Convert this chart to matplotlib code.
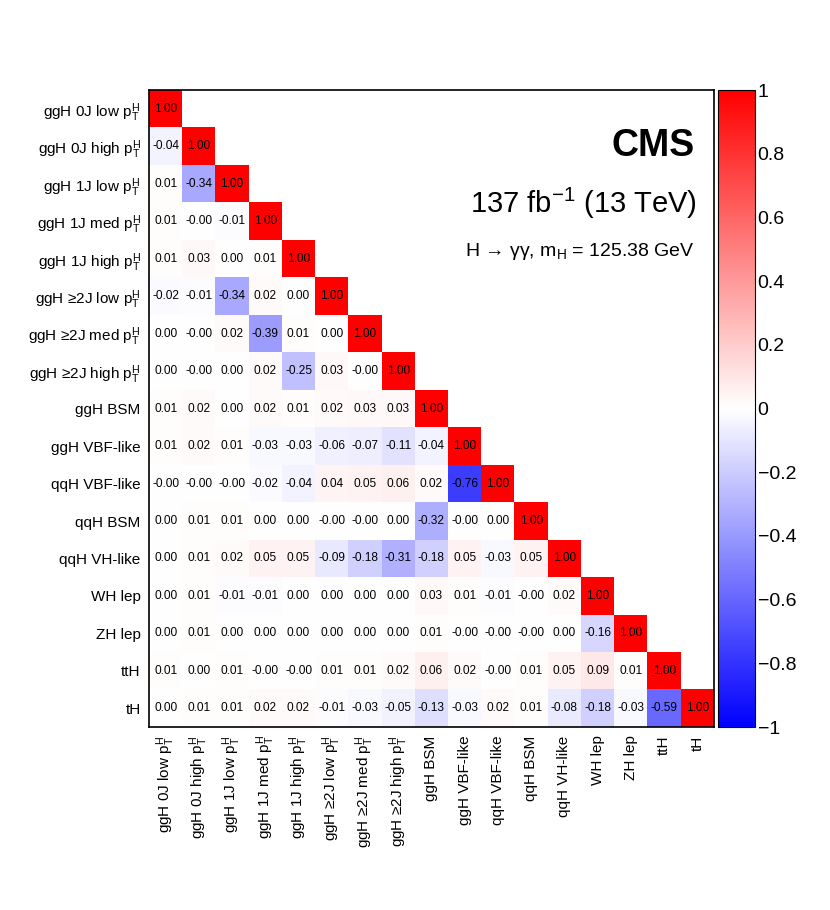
import numpy as np
import matplotlib
matplotlib.use("Agg")
import matplotlib.pyplot as plt
from matplotlib.colors import LinearSegmentedColormap

plt.rcParams['font.family'] = ['Liberation Sans', 'DejaVu Sans']
plt.rcParams['mathtext.fontset'] = 'custom'
plt.rcParams['mathtext.rm'] = 'Liberation Sans'
plt.rcParams['mathtext.it'] = 'Liberation Sans:italic'
plt.rcParams['mathtext.bf'] = 'Liberation Sans:bold'

PT = r'$\mathrm{p}_{\mathrm{T}}^{\mathrm{H}}$'
labels = [
    'ggH 0J low ' + PT, 'ggH 0J high ' + PT, 'ggH 1J low ' + PT,
    'ggH 1J med ' + PT, 'ggH 1J high ' + PT, 'ggH \u22652J low ' + PT,
    'ggH \u22652J med ' + PT, 'ggH \u22652J high ' + PT, 'ggH BSM',
    'ggH VBF-like', 'qqH VBF-like', 'qqH BSM', 'qqH VH-like',
    'WH lep', 'ZH lep', 'ttH', 'tH',
]

# lower triangle, row by row (-0.0 keeps the "-0.00" printed in the original)
rows = [
    [1.00],
    [-0.04, 1.00],
    [0.01, -0.34, 1.00],
    [0.01, -0.0, -0.01, 1.00],
    [0.01, 0.03, 0.00, 0.01, 1.00],
    [-0.02, -0.01, -0.34, 0.02, 0.00, 1.00],
    [0.00, -0.0, 0.02, -0.39, 0.01, 0.00, 1.00],
    [0.00, -0.0, 0.00, 0.02, -0.25, 0.03, -0.0, 1.00],
    [0.01, 0.02, 0.00, 0.02, 0.01, 0.02, 0.03, 0.03, 1.00],
    [0.01, 0.02, 0.01, -0.03, -0.03, -0.06, -0.07, -0.11, -0.04, 1.00],
    [-0.0, -0.0, -0.0, -0.02, -0.04, 0.04, 0.05, 0.06, 0.02, -0.76, 1.00],
    [0.00, 0.01, 0.01, 0.00, 0.00, -0.0, -0.0, 0.00, -0.32, -0.0, 0.00, 1.00],
    [0.00, 0.01, 0.02, 0.05, 0.05, -0.09, -0.18, -0.31, -0.18, 0.05, -0.03, 0.05, 1.00],
    [0.00, 0.01, -0.01, -0.01, 0.00, 0.00, 0.00, 0.00, 0.03, 0.01, -0.01, -0.0, 0.02, 1.00],
    [0.00, 0.01, 0.00, 0.00, 0.00, 0.00, 0.00, 0.00, 0.01, -0.0, -0.0, -0.0, 0.00, -0.16, 1.00],
    [0.01, 0.00, 0.01, -0.0, -0.0, 0.01, 0.01, 0.02, 0.06, 0.02, -0.0, 0.01, 0.05, 0.09, 0.01, 1.00],
    [0.00, 0.01, 0.01, 0.02, 0.02, -0.01, -0.03, -0.05, -0.13, -0.03, 0.02, 0.01, -0.08, -0.18, -0.03, -0.59, 1.00],
]

n = len(labels)
mat = np.full((n, n), np.nan)
for i, r in enumerate(rows):
    mat[i, :len(r)] = r

cmap = LinearSegmentedColormap.from_list('bwr_root', [(0, 0, 1), (1, 1, 1), (1, 0, 0)])

fig = plt.figure(figsize=(8.3, 9.1), dpi=100)
ax = fig.add_axes([0.1795, 0.201, 0.6807, 0.700])
cax = fig.add_axes([0.865, 0.201, 0.0446, 0.700])

im = ax.imshow(np.ma.masked_invalid(mat), cmap=cmap, vmin=-1, vmax=1,
               aspect='auto', interpolation='nearest',
               extent=(-0.5, n - 0.5, n - 0.5, -0.5))

for i, r in enumerate(rows):
    for j, v in enumerate(r):
        ax.text(j, i, f'{v:.2f}', ha='center', va='center', fontsize=8.6)

ax.set_xlim(-0.5, n - 0.5)
ax.set_ylim(n - 0.5, -0.5)
ax.set_xticks(range(n))
ax.set_xticklabels(labels, rotation=90, fontsize=11, va='top')
ax.set_yticks(range(n))
ax.set_yticklabels(labels, fontsize=11)
ax.tick_params(length=0, pad=6)
for s in ax.spines.values():
    s.set_linewidth(1.2)

cb = fig.colorbar(im, cax=cax)
cb.set_ticks([-1, -0.8, -0.6, -0.4, -0.2, 0, 0.2, 0.4, 0.6, 0.8, 1])
cb.set_ticklabels(['\u22121', '\u22120.8', '\u22120.6', '\u22120.4', '\u22120.2', '0',
                   '0.2', '0.4', '0.6', '0.8', '1'])
cb.ax.tick_params(length=0, labelsize=14, pad=2)
cb.outline.set_linewidth(0.8)

fig.text(695 / 830, 1 - 146 / 910, 'CMS', ha='right', va='center',
         fontsize=27, fontweight='bold')
fig.text(697 / 830, 1 - 203 / 910, r'137 fb$^{-1}$ (13 TeV)', ha='right',
         va='center', fontsize=21)
fig.text(695 / 830, 1 - 252 / 910, 'H \u2192 \u03b3\u03b3, m$_{\\mathrm{H}}$ = 125.38 GeV',
         ha='right', va='center', fontsize=14)

fig.savefig('out.png', dpi=100)
